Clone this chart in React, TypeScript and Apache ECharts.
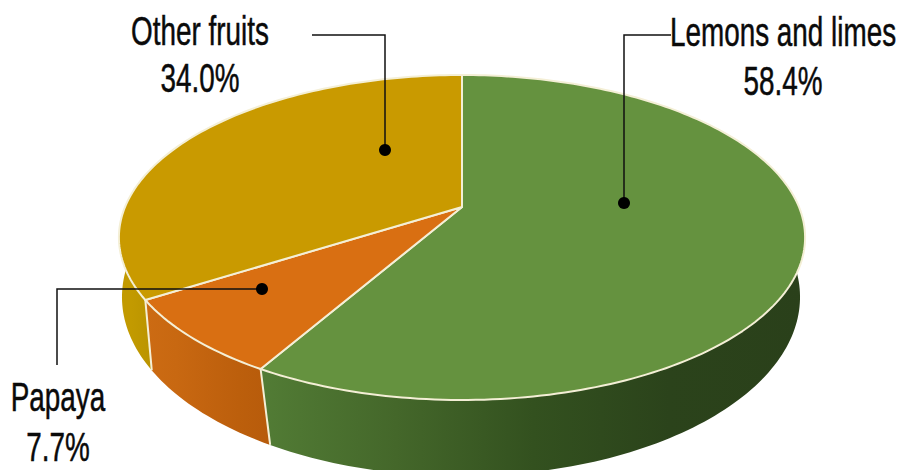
import React, { useEffect, useRef } from "react";
import * as echarts from "echarts";

const categories = ["Lemons and limes", "Papaya", "Other fruits"];
const shares = [58.4, 7.7, 34.0];
const shareLabels = ["58.4%", "7.7%", "34.0%"];
const topColors = ["#65923f", "#d96f12", "#c99a00"];
const sideStops = [
  ["#527c35", "#44672a", "#33511f", "#2b431b", "#2a401a"],
  ["#cc6b13", "#c86811", "#c2630f", "#bc5f0c", "#b75b0b"],
  ["#c29a00", "#c29a00", "#bd9600", "#b89200", "#b89200"],
];
const edgeColor = "#f4efd6";
const FONT = '"Liberation Sans", Arial, sans-serif';

// Perspective projection of the unit circle onto the page
const CX = 462;
const PY = 207;
const PA = 117.9;
const PC = -0.1877;
const PD = 337;
const LOW_CX = 461;
const LOW_PY = 263.4;
const LOW_PA = 123.3;
const LOW_PD = 333;
const LOW_SHIFT = 0.025;
const TAU = Math.PI * 2;

function topPt(t: number): number[] {
  const u = Math.sin(t);
  const v = -Math.cos(t);
  const den = 1 + PC * v;
  return [CX + (PD * u) / den, (PA * v + PY) / den];
}
function lowPt(t: number): number[] {
  const s = t - LOW_SHIFT;
  const u = Math.sin(s);
  const v = -Math.cos(s);
  const den = 1 + PC * v;
  return [LOW_CX + (LOW_PD * u) / den, (LOW_PA * v + LOW_PY) / den];
}
function bounds(idx: number): number[] {
  const total = shares.reduce((a, b) => a + b, 0);
  let acc = 0;
  for (let i = 0; i < idx; i++) acc += shares[i];
  return [(acc / total) * TAU, ((acc + shares[idx]) / total) * TAU];
}
function arc(fn: (t: number) => number[], a: number, b: number): number[][] {
  const n = Math.max(2, Math.ceil(Math.abs(b - a) / 0.02));
  const out: number[][] = [];
  for (let i = 0; i <= n; i++) out.push(fn(a + ((b - a) * i) / n));
  return out;
}

const VIS_FROM = (70 / 360) * TAU;
const VIS_TO = (292 / 360) * TAU;

function renderSide(params: any) {
  const i = params.dataIndex;
  const [a0, b0] = bounds(i);
  const a = Math.max(a0, VIS_FROM);
  const b = Math.min(b0, VIS_TO);
  const upper = arc(topPt, a, b);
  const lower = arc(lowPt, a, b).reverse();
  const stops = sideStops[i].map((color, k) => ({ offset: k / (sideStops[i].length - 1), color }));
  const children: any[] = [
    {
      type: "polygon",
      shape: { points: upper.concat(lower) },
      style: { fill: new echarts.graphic.LinearGradient(0, 0, 1, 0, stops) },
    },
  ];
  if (b0 < VIS_TO) {
    const p = topPt(b0);
    const q = lowPt(b0);
    children.push({
      type: "line",
      z2: 5,
      shape: { x1: p[0], y1: p[1], x2: q[0], y2: q[1] },
      style: { stroke: edgeColor, lineWidth: 2 },
    });
  }
  return { type: "group", children };
}

function renderTop(params: any) {
  const i = params.dataIndex;
  const [a, b] = bounds(i);
  const rim = arc(topPt, a, b);
  return {
    type: "polygon",
    shape: { points: [[CX, PY], ...rim] },
    style: { fill: topColors[i], stroke: edgeColor, lineWidth: 2, lineJoin: "round" },
  };
}

function label(text: string, x: number, y: number) {
  return {
    type: "text",
    x,
    y,
    scaleX: 0.68,
    style: {
      text,
      font: `41px ${FONT}`,
      fill: "#0a0a0a",
      stroke: "#0a0a0a",
      lineWidth: 0.5,
      align: "center",
      verticalAlign: "middle",
    },
    z: 10,
  };
}
function leader(points: number[][]) {
  const end = points[points.length - 1];
  return [
    {
      type: "polyline",
      shape: { points },
      style: { stroke: "#111", lineWidth: 1.5, fill: "none" },
      z: 10,
    },
    {
      type: "circle",
      shape: { cx: end[0], cy: end[1], r: 6 },
      style: { fill: "#000" },
      z: 10,
    },
  ];
}

export default function App() {
  const ref = useRef<HTMLDivElement>(null);
  useEffect(() => {
    document.body.style.margin = "0";
    const chart = echarts.init(ref.current!, undefined, { renderer: "svg" });
    const data = categories.map((name, i) => ({ name, value: [i, shares[i]] }));
    chart.setOption({
      animation: false,
      backgroundColor: "#ffffff",
      xAxis: { show: false, min: 0, max: 2 },
      yAxis: { show: false, min: 0, max: 100 },
      grid: { left: 0, right: 0, top: 0, bottom: 0 },
      series: [
        { type: "custom", coordinateSystem: "cartesian2d", renderItem: renderSide, data, z: 1, clip: false },
        { type: "custom", coordinateSystem: "cartesian2d", renderItem: renderTop, data, z: 2, clip: false },
      ],
      graphic: [
        label(categories[2], 200, 30),
        label(shareLabels[2], 200, 77),
        label(categories[0], 783, 31),
        label(shareLabels[0], 783, 80),
        label(categories[1], 58, 396),
        label(shareLabels[1], 58, 446),
        ...leader([[312, 35], [385, 35], [385, 150]]),
        ...leader([[671, 35], [624, 35], [624, 203]]),
        ...leader([[57, 365], [57, 289], [262, 289]]),
      ],
    });
    return () => chart.dispose();
  }, []);
  return <div ref={ref} style={{ width: 914, height: 470 }} />;
}
